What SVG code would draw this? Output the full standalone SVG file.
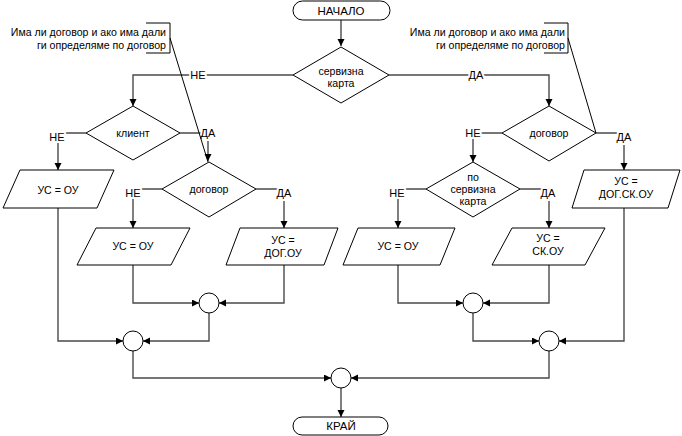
<svg xmlns="http://www.w3.org/2000/svg" width="682" height="436" viewBox="0 0 682 436">
<style>
.sh{fill:#fff;stroke:#000;stroke-width:1}
.t{font-family:"Liberation Sans",Arial,sans-serif;font-size:10.6px;fill:#000;text-anchor:middle}
.a{font-family:"Liberation Sans",Arial,sans-serif;font-size:10.6px;fill:#000;text-anchor:end}
.lb{font-family:"Liberation Sans",Arial,sans-serif;font-size:11px;fill:#000;text-anchor:middle;paint-order:stroke;stroke:#fff;stroke-width:4px}
.c{fill:none;stroke:#4a4a4a;stroke-width:1.4}
.n{fill:none;stroke:#000;stroke-width:1}
</style>
<defs>
<marker id="ar" markerUnits="userSpaceOnUse" markerWidth="8" markerHeight="8" refX="7" refY="3.5" orient="auto"><path d="M0,0 L7,3.5 L0,7 z" fill="#000"/></marker>
</defs>
<g id="connectors">
<path class="c" d="M341,20 V46" marker-end="url(#ar)"/>
<path class="c" d="M293,75 H133 V106" marker-end="url(#ar)"/>
<path class="c" d="M389,75 H549 V106" marker-end="url(#ar)"/>
<path class="c" d="M86,133 H58 V170" marker-end="url(#ar)"/>
<path class="c" d="M180,133 H208 V161" marker-end="url(#ar)"/>
<path class="c" d="M162,189 H133 V228" marker-end="url(#ar)"/>
<path class="c" d="M256,189 H284 V228" marker-end="url(#ar)"/>
<path class="c" d="M502,133 H473 V162" marker-end="url(#ar)"/>
<path class="c" d="M596,133 H624 V170" marker-end="url(#ar)"/>
<path class="c" d="M426,189 H398 V228" marker-end="url(#ar)"/>
<path class="c" d="M520,189 H549 V228" marker-end="url(#ar)"/>
<path class="c" d="M133,265 V303 H199" marker-end="url(#ar)"/>
<path class="c" d="M284,265 V303 H219" marker-end="url(#ar)"/>
<path class="c" d="M58,208 V341 H123" marker-end="url(#ar)"/>
<path class="c" d="M209,313 V341 H143" marker-end="url(#ar)"/>
<path class="c" d="M133,351 V378 H331" marker-end="url(#ar)"/>
<path class="c" d="M398,265 V303 H463" marker-end="url(#ar)"/>
<path class="c" d="M549,265 V303 H483" marker-end="url(#ar)"/>
<path class="c" d="M473,313 V341 H539" marker-end="url(#ar)"/>
<path class="c" d="M624,208 V341 H559" marker-end="url(#ar)"/>
<path class="c" d="M549,351 V378 H351" marker-end="url(#ar)"/>
<path class="c" d="M341,388 V417" marker-end="url(#ar)"/>
<text class="lb" x="198" y="79">НЕ</text>
<text class="lb" x="476" y="79">ДА</text>
<text class="lb" x="57" y="141">НЕ</text>
<text class="lb" x="208" y="137">ДА</text>
<text class="lb" x="133" y="197">НЕ</text>
<text class="lb" x="284" y="197">ДА</text>
<text class="lb" x="473" y="137">НЕ</text>
<text class="lb" x="624" y="141">ДА</text>
<text class="lb" x="397" y="197">НЕ</text>
<text class="lb" x="548" y="197">ДА</text>
</g>
<g id="start"><rect class="sh" x="293" y="1" width="97" height="19" rx="9.5"/><text class="t" x="341" y="15" style="font-size:11.5px">НАЧАЛО</text></g>
<g id="d-card"><polygon class="sh" points="341,47 389,75 341,103 293,75"/><text class="t" x="341" y="75">сервизна</text><text class="t" x="341" y="87">карта</text></g>
<g id="d-client"><polygon class="sh" points="133,106 180,133 133,160 86,133"/><text class="t" x="133" y="137">клиент</text></g>
<g id="d-contract-l"><polygon class="sh" points="209,162 256,189 209,217 162,189"/><text class="t" x="209" y="193">договор</text></g>
<g id="d-contract-r"><polygon class="sh" points="549,106 596,133 549,161 502,133"/><text class="t" x="549" y="137">договор</text></g>
<g id="d-bycard"><polygon class="sh" points="473,162 520,189 473,217 426,189"/><text class="t" x="473" y="181">по</text><text class="t" x="473" y="193">сервизна</text><text class="t" x="473" y="205">карта</text></g>
<g id="p1"><polygon class="sh" points="20,170 114,170 97,208 3,208"/><text class="t" x="58" y="194">УС = ОУ</text></g>
<g id="p2"><polygon class="sh" points="96,228 190,228 171,265 77,265"/><text class="t" x="133" y="250">УС = ОУ</text></g>
<g id="p3"><polygon class="sh" points="240,228 338,228 324,265 226,265"/><text class="t" x="283" y="244">УС =</text><text class="t" x="283" y="257">ДОГ.ОУ</text></g>
<g id="p4"><polygon class="sh" points="358,228 455,228 440,265 343,265"/><text class="t" x="398" y="250">УС = ОУ</text></g>
<g id="p5"><polygon class="sh" points="512,228 605,228 585,265 492,265"/><text class="t" x="548" y="242">УС =</text><text class="t" x="548" y="255">СК.ОУ</text></g>
<g id="p6"><polygon class="sh" points="584,170 680,170 668,208 572,208"/><text class="t" x="626" y="185">УС =</text><text class="t" x="626" y="198">ДОГ.СК.ОУ</text></g>
<g id="j1"><circle class="sh" cx="209" cy="303" r="10"/></g>
<g id="j2"><circle class="sh" cx="133" cy="341" r="10"/></g>
<g id="j3"><circle class="sh" cx="473" cy="303" r="10"/></g>
<g id="j4"><circle class="sh" cx="549" cy="341" r="10"/></g>
<g id="j5"><circle class="sh" cx="341" cy="378" r="10"/></g>
<g id="end"><rect class="sh" x="293" y="417" width="95" height="18" rx="9"/><text class="t" x="341" y="430" style="font-size:11.5px">КРАЙ</text></g>
<g id="note-l"><text class="a" x="166" y="36">Има ли договор и ако има дали</text><text class="a" x="166" y="49">ги определяме по договор</text><path class="n" d="M146,23 H170 V53 H146"/><path class="n" d="M170,38 L208,162"/></g>
<g id="note-r"><text class="a" x="565" y="36">Има ли договор и ако има дали</text><text class="a" x="565" y="49">ги определяме по договор</text><path class="n" d="M544,23 H568 V53 H544"/><path class="n" d="M568,38 L596,133"/></g>
</svg>
